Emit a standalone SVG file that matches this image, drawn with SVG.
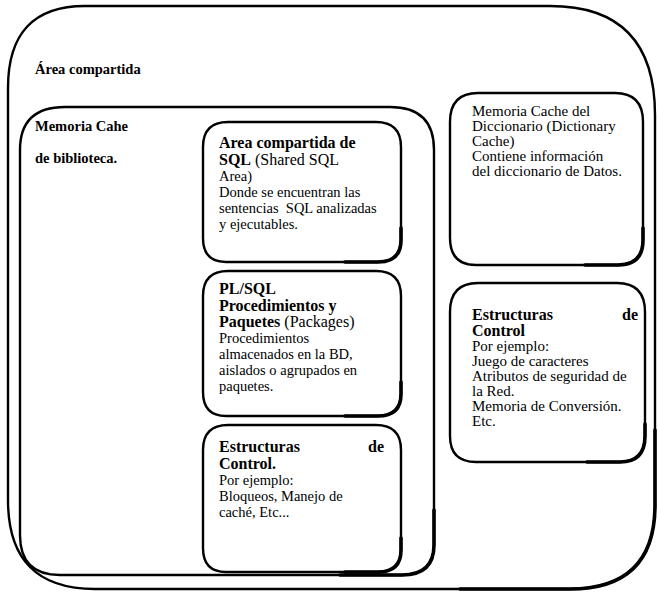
<svg xmlns="http://www.w3.org/2000/svg" width="658" height="593" viewBox="0 0 658 593">
  <style>
    .frame { fill: none; stroke: #000; stroke-width: 2.4; stroke-linejoin: round; }
    .heavy { fill: none; stroke: #000; stroke-width: 3.6; stroke-linecap: round; }
    text { font-family: "Liberation Serif", "Times New Roman", "DejaVu Serif", serif; fill: #000; }
    .h { font-size: 16px; font-weight: 700; }
    .t { font-size: 14.5px; }
    .r { font-size: 15px; }
    .lbl { font-size: 14.5px; font-weight: 700; }
  </style>

  <!-- shared pool (outer region) -->
  <g id="shared-pool">
    <path class="frame" d="M85,6 L550,6 Q655,6 655,115 L655,505 Q655,589 570,589 L95,589 Q8,589 8,500 L8,88 Q8,6 85,6 Z"/>
    <path class="heavy" d="M655,430 L655,505 Q655,589 570,589 L460,589"/>
    <text class="lbl" x="35" y="74">Área compartida</text>
  </g>

  <!-- library cache -->
  <g id="library-cache">
    <path class="frame" d="M65,107 L390,107 Q434,107 434,150 L434,545 Q434,575 402,575 L60,575 Q20,575 20,535 L20,150 Q20,107 65,107 Z"/>
    <path class="heavy" d="M434,510 L434,545 Q434,575 402,575 L340,575"/>
    <text class="lbl" x="35" y="131">Memoria Cahe</text>
    <text class="lbl" x="35" y="163">de biblioteca.</text>
  </g>

  <!-- shared SQL area -->
  <g id="shared-sql">
    <path class="frame" d="M228,122 L376,122 Q401,122 401,147 L401,240 Q401,262 378,262 L226,262 Q203,262 203,238 L203,147 Q203,122 228,122 Z"/>
    <path class="heavy" d="M401,228 L401,240 Q401,262 378,262 L345,262"/>
    <text class="h" x="219" y="148">Area compartida de</text>
    <text x="219" y="165"><tspan class="h">SQL</tspan><tspan font-size="16"> (Shared SQL</tspan></text>
    <text class="t" x="219" y="181">Area)</text>
    <text class="t" x="219" y="197">Donde se encuentran las</text>
    <text class="t" x="219" y="213" xml:space="preserve">sentencias  SQL analizadas</text>
    <text class="t" x="219" y="229">y ejecutables.</text>
  </g>

  <!-- PL/SQL procedures and packages -->
  <g id="plsql">
    <path class="frame" d="M228,271 L376,271 Q401,271 401,296 L401,394 Q401,416 378,416 L226,416 Q203,416 203,392 L203,296 Q203,271 228,271 Z"/>
    <path class="heavy" d="M401,382 L401,394 Q401,416 378,416 L345,416"/>
    <text class="h" x="219" y="294">PL/SQL</text>
    <text class="h" x="219" y="311">Procedimientos y</text>
    <text x="219" y="327"><tspan class="h">Paquetes</tspan><tspan font-size="16"> (Packages)</tspan></text>
    <text class="t" x="219" y="343">Procedimientos</text>
    <text class="t" x="219" y="359">almacenados en la BD,</text>
    <text class="t" x="219" y="375">aislados o agrupados en</text>
    <text class="t" x="219" y="391">paquetes.</text>
  </g>

  <!-- library control structures -->
  <g id="lib-control">
    <path class="frame" d="M228,425 L376,425 Q401,425 401,450 L401,550 Q401,572 378,572 L226,572 Q203,572 203,548 L203,450 Q203,425 228,425 Z"/>
    <path class="heavy" d="M401,538 L401,550 Q401,572 378,572 L345,572"/>
    <text class="h" x="219" y="452">Estructuras</text>
    <text class="h" x="384" y="452" text-anchor="end">de</text>
    <text class="h" x="219" y="469">Control.</text>
    <text class="t" x="219" y="485">Por ejemplo:</text>
    <text class="t" x="219" y="501">Bloqueos, Manejo de</text>
    <text class="t" x="219" y="517">caché, Etc...</text>
  </g>

  <!-- dictionary cache -->
  <g id="dictionary-cache">
    <path class="frame" d="M478,93 L615,93 Q643,93 643,122 L643,240 Q643,265 618,265 L476,265 Q450,265 450,238 L450,122 Q450,93 478,93 Z"/>
    <path class="heavy" d="M643,228 L643,240 Q643,265 618,265 L585,265"/>
    <text class="r" x="472" y="116">Memoria Cache del</text>
    <text class="r" x="472" y="131">Diccionario (Dictionary</text>
    <text class="r" x="472" y="146">Cache)</text>
    <text class="r" x="472" y="161">Contiene información</text>
    <text class="r" x="472" y="176">del diccionario de Datos.</text>
  </g>

  <!-- shared area control structures -->
  <g id="shared-control">
    <path class="frame" d="M478,283 L617,283 Q645,283 645,312 L645,436 Q645,462 620,462 L476,462 Q450,462 450,436 L450,312 Q450,283 478,283 Z"/>
    <path class="heavy" d="M645,424 L645,436 Q645,462 620,462 L587,462"/>
    <text class="h" x="472" y="320">Estructuras</text>
    <text class="h" x="638" y="320" text-anchor="end">de</text>
    <text class="h" x="472" y="336">Control</text>
    <text class="r" x="472" y="351">Por ejemplo:</text>
    <text class="r" x="472" y="366">Juego de caracteres</text>
    <text class="r" x="472" y="381">Atributos de seguridad de</text>
    <text class="r" x="472" y="396">la Red.</text>
    <text class="r" x="472" y="411">Memoria de Conversión.</text>
    <text class="r" x="472" y="426">Etc.</text>
  </g>

  <!-- no connectors in this diagram -->
  <g id="connectors"/>
</svg>
